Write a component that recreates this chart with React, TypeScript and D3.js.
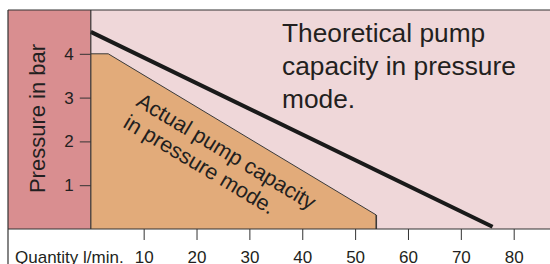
import React, { useEffect, useRef } from "react";
import * as d3 from "d3";

// theoretical pump capacity (straight line)
const theoQty = [0, 76];
const theoBar = [4.5, 0.05];

// actual pump capacity (filled area)
const actQty = [0, 3.3, 54, 54];
const actBar = [4, 4, 0.32, 0];

const xTicks = [10, 20, 30, 40, 50, 60, 70, 80];
const yTicks = [1, 2, 3, 4];
const yMinor = [0.5, 1.5, 2.5, 3.5, 4.5];

const FONT = "'Liberation Sans', Arial, sans-serif";
const INK = "#231f20";

export default function App() {
  const ref = useRef<SVGSVGElement>(null);

  useEffect(() => {
    const W = 550, H = 264;
    const left = 8, top = 10, axisX = 90.8, bottom = 229;

    const svg = d3.select(ref.current);
    svg.selectAll("*").remove();

    const x = d3.scaleLinear().domain([0, 80]).range([axisX, 513.7]);
    const y = d3.scaleLinear().domain([0, 5]).range([bottom, top]);

    // backgrounds
    svg.append("rect").attr("x", 0).attr("y", 0).attr("width", W).attr("height", H).attr("fill", "#fff");
    svg.append("rect")
      .attr("x", axisX).attr("y", top)
      .attr("width", W - axisX).attr("height", bottom - top)
      .attr("fill", "#efd7d9");
    svg.append("rect")
      .attr("x", left).attr("y", top)
      .attr("width", axisX - left).attr("height", bottom - top)
      .attr("fill", "#d98e90");

    // actual capacity area
    const actPts: [number, number][] = actQty.map((q, i) => [x(q), y(actBar[i])]);
    svg.append("path")
      .attr("d", d3.line()([...actPts, [x(0), y(0)]]) + "Z")
      .attr("fill", "#e2ab7a");
    svg.append("path")
      .attr("d", d3.line()(actPts.slice(0, 3)))
      .attr("fill", "none")
      .attr("stroke", "#3a3a3a")
      .attr("stroke-width", 1);
    svg.append("path")
      .attr("d", d3.line()(actPts.slice(2)))
      .attr("fill", "none")
      .attr("stroke", "#3a3a3a")
      .attr("stroke-width", 1.6);

    // theoretical line
    svg.append("path")
      .attr("d", d3.line()(theoQty.map((q, i) => [x(q), y(theoBar[i])] as [number, number])))
      .attr("fill", "none")
      .attr("stroke", "#1a1a1a")
      .attr("stroke-width", 4);

    // frame
    const frame = svg.append("g").attr("stroke", "#333").attr("stroke-width", 1.2);
    frame.append("line").attr("x1", left).attr("x2", W).attr("y1", top).attr("y2", top);
    frame.append("line").attr("x1", left).attr("x2", left).attr("y1", top).attr("y2", H);
    frame.append("line").attr("x1", left).attr("x2", W).attr("y1", bottom).attr("y2", bottom);
    frame.append("line").attr("x1", axisX).attr("x2", axisX).attr("y1", top).attr("y2", bottom);

    // y axis
    const yAxis = svg.append("g").attr("transform", `translate(${axisX},0)`);
    yAxis.call(d3.axisLeft(y).tickValues(yMinor).tickSize(9).tickFormat(() => ""));
    yAxis.call(d3.axisLeft(y).tickValues(yTicks).tickSize(11).tickPadding(6).tickFormat(d3.format("d")));
    yAxis.select(".domain").remove();
    yAxis.selectAll("line").attr("stroke", "#333").attr("stroke-width", 1);
    yAxis.selectAll("text")
      .attr("font-family", FONT).attr("font-size", 17).attr("fill", INK);

    // x axis
    const xAxis = svg.append("g").attr("transform", `translate(0,${bottom})`);
    xAxis.call(d3.axisBottom(x).tickValues(xTicks).tickSize(11).tickPadding(10.5).tickFormat(d3.format("d")));
    xAxis.select(".domain").remove();
    xAxis.selectAll("line").attr("stroke", "#333").attr("stroke-width", 1);
    xAxis.selectAll("text")
      .attr("font-family", FONT).attr("font-size", 17).attr("fill", INK);

    svg.append("text")
      .attr("x", 15).attr("y", 262.5)
      .attr("font-family", FONT).attr("font-size", 17).attr("fill", INK)
      .text("Quantity l/min.");

    svg.append("text")
      .attr("transform", `translate(45,118.5) rotate(-90)`)
      .attr("text-anchor", "middle")
      .attr("font-family", FONT).attr("font-size", 22).attr("fill", INK)
      .text("Pressure in bar");

    // annotations
    const theo = svg.append("text")
      .attr("font-family", FONT).attr("font-size", 26.3).attr("fill", INK);
    ["Theoretical pump", "capacity in pressure", "mode."].forEach((s, i) => {
      theo.append("tspan").attr("x", 282).attr("y", 41.7 + i * 33.3).text(s);
    });

    const act = svg.append("text")
      .attr("transform", "translate(135,105) rotate(31)")
      .attr("font-family", FONT).attr("font-size", 21.5).attr("fill", INK);
    ["Actual pump capacity", "in pressure mode."].forEach((s, i) => {
      act.append("tspan").attr("x", 0).attr("y", i * 25).text(s);
    });
  }, []);

  return (
    <div style={{ position: "absolute", left: 0, top: 0 }}>
      <svg ref={ref} width={550} height={264} style={{ display: "block" }} />
    </div>
  );
}
